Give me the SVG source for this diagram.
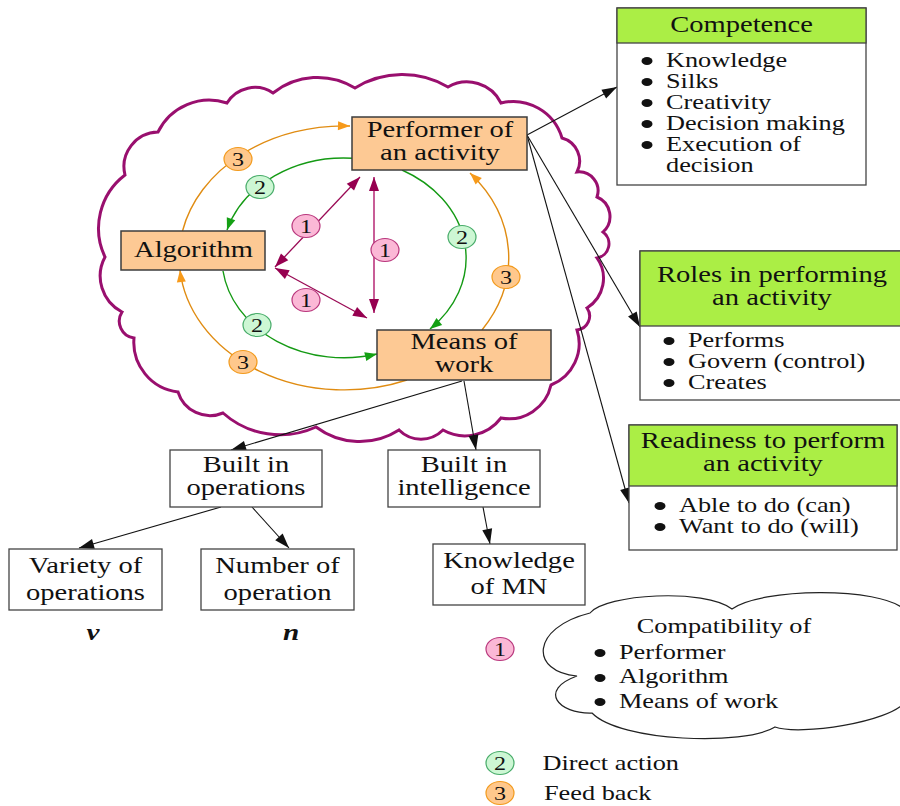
<svg xmlns="http://www.w3.org/2000/svg" width="900" height="806" viewBox="0 0 900 806">
<defs>
<style>
.t{font-family:"Liberation Serif","Times New Roman",serif;fill:#111}
.lg{font-size:22.5px}
.sm{font-size:20.7px}
.mid{text-anchor:middle}
.bi{font-weight:bold;font-style:italic;font-size:23px}
.num{font-family:"Liberation Serif","Times New Roman",serif;font-size:19px;text-anchor:middle;fill:#111}
.box{fill:#fff;stroke:#444;stroke-width:1.3}
.obox{fill:#fdc994;stroke:#3c3c3c;stroke-width:1.5}
.head{fill:#abee45;stroke:#444;stroke-width:1.3}
.dot{fill:#111}
.blk{stroke:#111;stroke-width:1.1;fill:none;marker-end:url(#ah-blk)}
.grn{stroke:#149a14;stroke-width:1.4;fill:none;marker-end:url(#ah-grn)}
.org{stroke:#e08c12;stroke-width:1.4;fill:none;marker-end:url(#ah-org)}
.mar{stroke:#9a0a55;stroke-width:1.3;fill:none;marker-start:url(#ah-mar);marker-end:url(#ah-mar)}
.marv{stroke:#c24c8c;stroke-width:1.8}
.b1{fill:#fbb8d6;stroke:#b8367c;stroke-width:1.2}
.b2{fill:#cdf7d4;stroke:#46ab68;stroke-width:1.2}
.b3{fill:#ffc88c;stroke:#f29a1c;stroke-width:1.2}
.cloud{fill:none;stroke:#990f6e;stroke-width:3}
.cloud2{fill:#fff;stroke:#222;stroke-width:1.2}
</style>
<marker id="ah-blk" markerUnits="userSpaceOnUse" markerWidth="16" markerHeight="10" refX="15" refY="5" orient="auto" overflow="visible"><path d="M0,0 L15,5 L0,10 z" fill="#111"/></marker>
<marker id="ah-grn" markerUnits="userSpaceOnUse" markerWidth="13" markerHeight="10" refX="12" refY="4.5" orient="auto" overflow="visible"><path d="M0,0 L12,4.5 L0,9 z" fill="#14a014"/></marker>
<marker id="ah-org" markerUnits="userSpaceOnUse" markerWidth="13" markerHeight="10" refX="12" refY="4.5" orient="auto" overflow="visible"><path d="M0,0 L12,4.5 L0,9 z" fill="#f79a1a"/></marker>
<marker id="ah-mar" markerUnits="userSpaceOnUse" markerWidth="15" markerHeight="11" refX="14" refY="5" orient="auto-start-reverse" overflow="visible"><path d="M0,0 L14,5 L0,10 z" fill="#960050"/></marker>
</defs>

<!-- scalloped outline around the activity system -->
<path id="system-cloud" class="cloud" d="M355,88 A90,90 0 0 1 448,87 A38,38 0 0 1 501,103 A51,51 0 0 1 562,138 A24,24 0 0 1 577,172 A19,19 0 0 1 597,197 A21,21 0 0 1 603,232 A14.5,14.5 0 0 1 597,258 A35,35 0 0 1 587,308 A14,14 0 0 1 577,330 A44.5,44.5 0 0 1 551,385 A43,43 0 0 1 501,418 A45,45 0 0 1 443,430 A31,31 0 0 1 399,430 A72.7,72.7 0 0 1 316,427 A86,86 0 0 1 223,413 A33.5,33.5 0 0 1 178,392 A50,50 0 0 1 134,338 A17,17 0 0 1 122,312 A40.5,40.5 0 0 1 105,257 A67,67 0 0 1 125,175 A34.7,34.7 0 0 1 158,132 A57,57 0 0 1 227,103 A32.6,32.6 0 0 1 273,93 A71.5,71.5 0 0 1 355,88 Z"/>

<g id="connectors">
  <!-- feedback loop (outer ring) -->
  <path class="org" d="M182.5,231 A165,132 0 0 1 350,126"/>
  <path class="org" d="M482,330 A165,132 0 0 0 470,173"/>
  <path class="org" d="M407,380 A165,132 0 0 1 180,270"/>
  <!-- direct action (inner ring) -->
  <path class="grn" d="M353,158.3 A122,100 0 0 0 227,230"/>
  <path class="grn" d="M402,170 A122,100 0 0 1 430,329"/>
  <path class="grn" d="M223,271 A122,100 0 0 0 377,354"/>
  <!-- compatibility links -->
  <line class="mar" x1="360" y1="177" x2="275" y2="267"/>
  <line class="mar marv" x1="374" y1="177" x2="374" y2="313"/>
  <line class="mar" x1="275" y1="268" x2="367" y2="318"/>
  <!-- hierarchy links -->
  <line class="blk" x1="527" y1="135" x2="617" y2="87"/>
  <line class="blk" x1="527" y1="135" x2="640" y2="327"/>
  <line class="blk" x1="527" y1="135" x2="629" y2="503"/>
  <line class="blk" x1="462" y1="381" x2="231" y2="450"/>
  <line class="blk" x1="464" y1="381" x2="476" y2="450"/>
  <line class="blk" x1="221" y1="507" x2="79" y2="548"/>
  <line class="blk" x1="252" y1="507" x2="289" y2="548"/>
  <line class="blk" x1="483" y1="507" x2="490" y2="544"/>
</g>

<g id="loop-badges">
  <g transform="translate(306,226)"><ellipse class="b1" rx="14" ry="11.5"/><text class="num" transform="scale(1.27,1)" y="6.5">1</text></g>
  <g transform="translate(385,250)"><ellipse class="b1" rx="14" ry="11.5"/><text class="num" transform="scale(1.27,1)" y="6.5">1</text></g>
  <g transform="translate(306,300)"><ellipse class="b1" rx="14" ry="11.5"/><text class="num" transform="scale(1.27,1)" y="6.5">1</text></g>
  <g transform="translate(260,187)"><ellipse class="b2" rx="14" ry="11.5"/><text class="num" transform="scale(1.27,1)" y="6.5">2</text></g>
  <g transform="translate(462,237)"><ellipse class="b2" rx="14" ry="11.5"/><text class="num" transform="scale(1.27,1)" y="6.5">2</text></g>
  <g transform="translate(257,325)"><ellipse class="b2" rx="14" ry="11.5"/><text class="num" transform="scale(1.27,1)" y="6.5">2</text></g>
  <g transform="translate(238,159)"><ellipse class="b3" rx="14" ry="11.5"/><text class="num" transform="scale(1.27,1)" y="6.5">3</text></g>
  <g transform="translate(506,277)"><ellipse class="b3" rx="14" ry="11.5"/><text class="num" transform="scale(1.27,1)" y="6.5">3</text></g>
  <g transform="translate(243,362)"><ellipse class="b3" rx="14" ry="11.5"/><text class="num" transform="scale(1.27,1)" y="6.5">3</text></g>
</g>

<g id="performer">
  <rect class="obox" x="352" y="117" width="175" height="53"/>
  <text class="t lg mid" transform="translate(440,137) scale(1.27,1)"><tspan x="0">Performer of</tspan><tspan x="0" dy="23">an activity</tspan></text>
</g>
<g id="algorithm">
  <rect class="obox" x="121" y="231" width="144" height="39"/>
  <text class="t lg mid" transform="translate(193.5,257) scale(1.27,1)">Algorithm</text>
</g>
<g id="means-of-work">
  <rect class="obox" x="377" y="330" width="174" height="50"/>
  <text class="t lg mid" transform="translate(464,349) scale(1.27,1)"><tspan x="0">Means of</tspan><tspan x="0" dy="23">work</tspan></text>
</g>

<g id="competence">
  <rect class="box" x="617" y="8" width="249" height="177"/>
  <rect class="head" x="617" y="8" width="249" height="35"/>
  <text class="t lg mid" transform="translate(741.5,32) scale(1.27,1)">Competence</text>
  <ellipse class="dot" cx="647" cy="61" rx="5.5" ry="4"/>
  <ellipse class="dot" cx="647" cy="82" rx="5.5" ry="4"/>
  <ellipse class="dot" cx="647" cy="103" rx="5.5" ry="4"/>
  <ellipse class="dot" cx="647" cy="124" rx="5.5" ry="4"/>
  <ellipse class="dot" cx="647" cy="145" rx="5.5" ry="4"/>
  <text class="t sm" transform="translate(666,67) scale(1.27,1)"><tspan x="0">Knowledge</tspan><tspan x="0" dy="21">Silks</tspan><tspan x="0" dy="21">Creativity</tspan><tspan x="0" dy="21">Decision making</tspan><tspan x="0" dy="21">Execution of</tspan><tspan x="0" dy="21">decision</tspan></text>
</g>

<g id="roles">
  <rect class="box" x="640" y="251" width="262" height="149"/>
  <rect class="head" x="640" y="251" width="262" height="75"/>
  <text class="t lg mid" transform="translate(772,282) scale(1.27,1)"><tspan x="0">Roles in performing</tspan><tspan x="0" dy="23">an activity</tspan></text>
  <ellipse class="dot" cx="669" cy="341" rx="5.5" ry="4"/>
  <ellipse class="dot" cx="669" cy="362" rx="5.5" ry="4"/>
  <ellipse class="dot" cx="669" cy="383" rx="5.5" ry="4"/>
  <text class="t sm" transform="translate(688,347) scale(1.27,1)"><tspan x="0">Performs</tspan><tspan x="0" dy="21">Govern (control)</tspan><tspan x="0" dy="21">Creates</tspan></text>
</g>

<g id="readiness">
  <rect class="box" x="629" y="425" width="268" height="125"/>
  <rect class="head" x="629" y="425" width="268" height="61"/>
  <text class="t lg mid" transform="translate(763,448) scale(1.27,1)"><tspan x="0">Readiness to perform</tspan><tspan x="0" dy="23.5">an activity</tspan></text>
  <ellipse class="dot" cx="660" cy="506" rx="5.5" ry="4"/>
  <ellipse class="dot" cx="660" cy="527" rx="5.5" ry="4"/>
  <text class="t sm" transform="translate(679,512) scale(1.27,1)"><tspan x="0">Able to do (can)</tspan><tspan x="0" dy="21">Want to do (will)</tspan></text>
</g>

<g id="built-in-operations">
  <rect class="box" x="170" y="450" width="152" height="57"/>
  <text class="t lg mid" transform="translate(246,472) scale(1.27,1)"><tspan x="0">Built in</tspan><tspan x="0" dy="23">operations</tspan></text>
</g>
<g id="built-in-intelligence">
  <rect class="box" x="388" y="450" width="152" height="57"/>
  <text class="t lg mid" transform="translate(464,472) scale(1.27,1)"><tspan x="0">Built in</tspan><tspan x="0" dy="23">intelligence</tspan></text>
</g>
<g id="variety">
  <rect class="box" x="9" y="549" width="153" height="61"/>
  <text class="t lg mid" transform="translate(85.5,573) scale(1.27,1)"><tspan x="0">Variety of</tspan><tspan x="0" dy="27">operations</tspan></text>
  <text class="t bi mid" transform="translate(93,640) scale(1.27,1)">v</text>
</g>
<g id="number">
  <rect class="box" x="201" y="549" width="153" height="61"/>
  <text class="t lg mid" transform="translate(277.5,573) scale(1.27,1)"><tspan x="0">Number of</tspan><tspan x="0" dy="27">operation</tspan></text>
  <text class="t bi mid" transform="translate(291,640) scale(1.27,1)">n</text>
</g>
<g id="knowledge-mn">
  <rect class="box" x="433" y="544" width="152" height="61"/>
  <text class="t lg mid" transform="translate(509,568) scale(1.27,1)"><tspan x="0">Knowledge</tspan><tspan x="0" dy="26.5">of MN</tspan></text>
</g>

<g id="legend">
  <g transform="translate(500,649)"><ellipse class="b1" rx="14" ry="11.5"/><text class="num" transform="scale(1.27,1)" y="6.5">1</text></g>
  <path class="cloud2" d="M590,613 C605,594 705,588 732,609 C760,588 880,586 905,610 L905,702 C890,722 800,736 775,727 C745,746 620,742 592,713 C558,714 538,690 577,676 C530,672 530,628 590,613 Z"/>
  <text class="t sm mid" transform="translate(724,633) scale(1.27,1)">Compatibility of</text>
  <ellipse class="dot" cx="600" cy="653" rx="5.5" ry="4"/>
  <ellipse class="dot" cx="600" cy="678" rx="5.5" ry="4"/>
  <ellipse class="dot" cx="600" cy="702" rx="5.5" ry="4"/>
  <text class="t sm" transform="translate(619,659) scale(1.27,1)"><tspan x="0">Performer</tspan><tspan x="0" dy="24.5">Algorithm</tspan><tspan x="0" dy="24.5">Means of work</tspan></text>
  <g transform="translate(500,763)"><ellipse class="b2" rx="14" ry="11.5"/><text class="num" transform="scale(1.27,1)" y="6.5">2</text></g>
  <text class="t sm" transform="translate(542.5,770) scale(1.27,1)">Direct action</text>
  <g transform="translate(500,793)"><ellipse class="b3" rx="14" ry="11.5"/><text class="num" transform="scale(1.27,1)" y="6.5">3</text></g>
  <text class="t sm" transform="translate(544,800) scale(1.27,1)">Feed back</text>
</g>
</svg>
